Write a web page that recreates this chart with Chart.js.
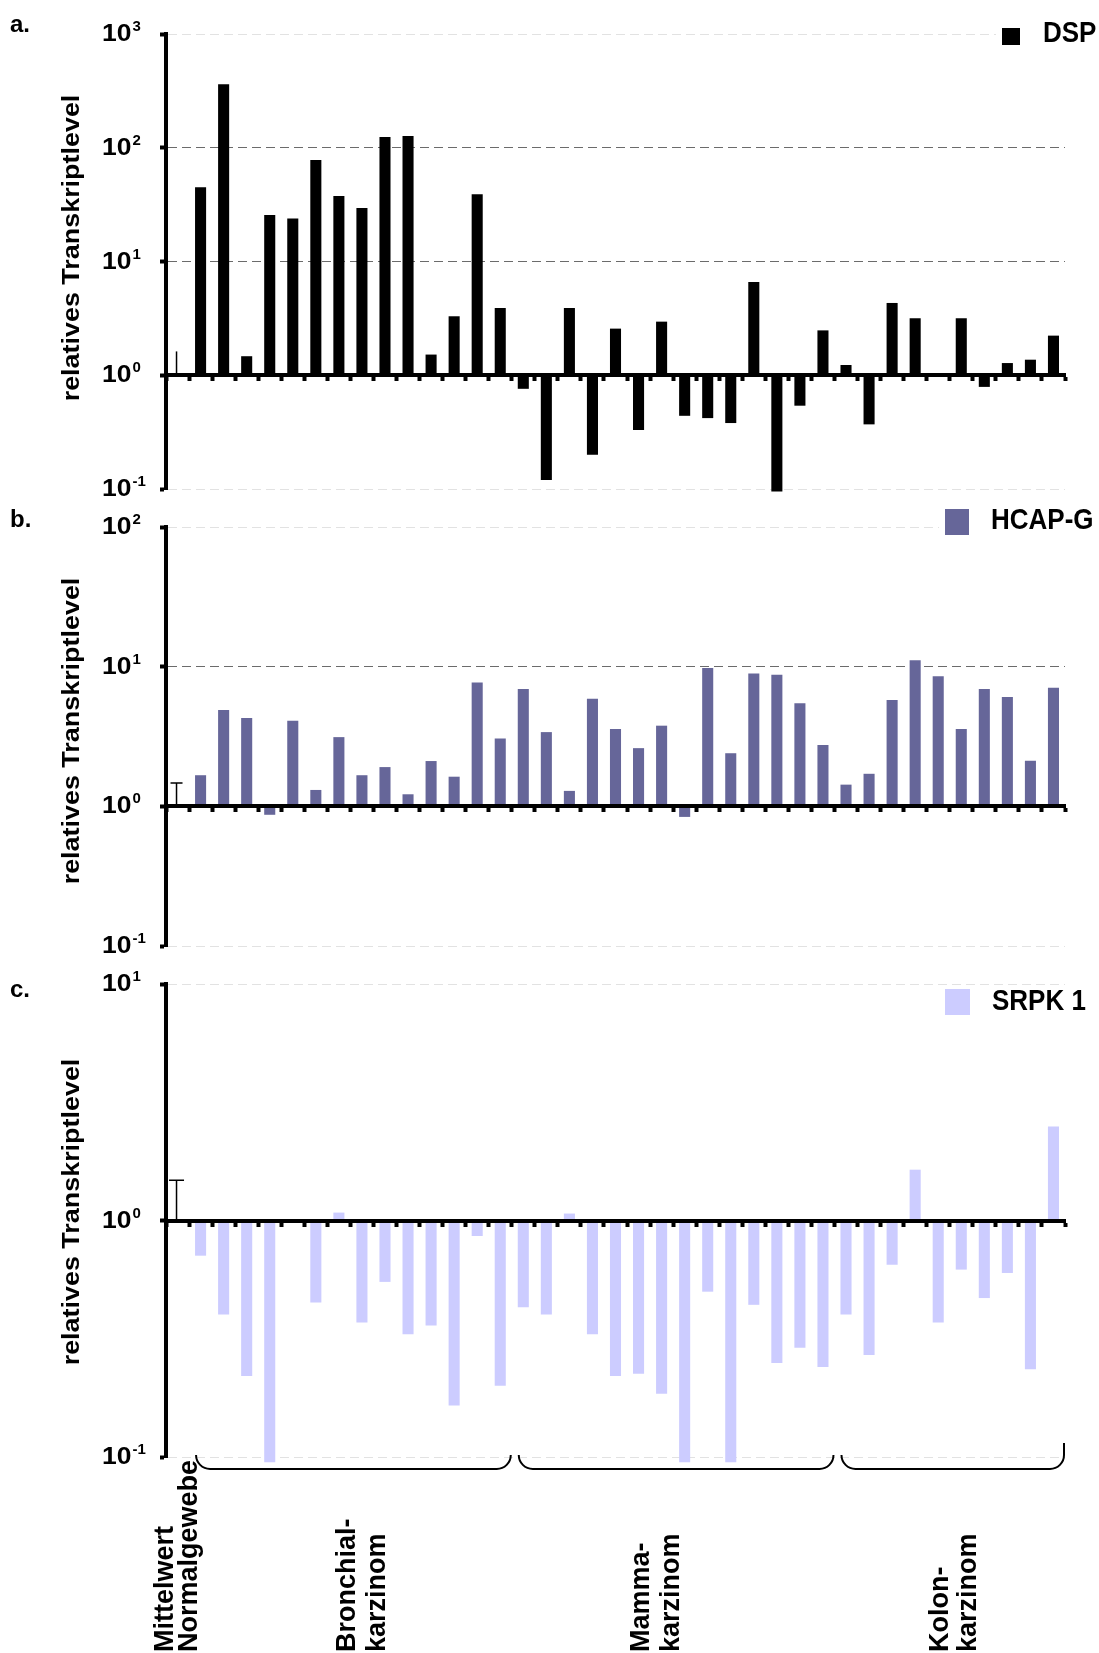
<!DOCTYPE html>
<html lang="de">
<head>
<meta charset="UTF-8">
<title>Relative Transkriptlevel DSP, HCAP-G, SRPK 1</title>
<script src="https://cdn.jsdelivr.net/npm/chart.js"></script>
<style>
  body { margin: 0; background: #fff; }
  #page { position: relative; width: 1099px; height: 1653px; }
  #page canvas { position: absolute; left: 0; }
</style>
</head>
<body>
<div id="page">
  <canvas id="chartDSP" width="1099" height="505" style="top:0px"></canvas>
  <canvas id="chartHCAP" width="1099" height="465" style="top:495px"></canvas>
  <canvas id="chartSRPK" width="1099" height="693" style="top:960px"></canvas>
</div>
<script>
// sample groups on the x axis; first slot is the mean of the normal tissues
const groupLabels = [['Mittelwert', 'Normalgewebe'], ['Bronchial-', 'karzinom'], ['Mamma-', 'karzinom'], ['Kolon-', 'karzinom']];
const groupSizes = [1, 14, 14, 10];
const groupPrefix = ['N', 'B', 'M', 'K'];
const categories = groupSizes.flatMap((n, g) => Array.from({length: n}, (_, i) => groupPrefix[g] + (i + 1)));

// relative transcript level, normal tissue mean = 1
const dspValues = [1, 45, 362, 1.47, 25.6, 23.9, 78, 37.6, 29.5, 124, 127, 1.52, 3.3, 39, 3.9,
  0.76, 0.12, 3.9, 0.20, 2.57, 0.33, 2.96, 0.44, 0.42, 0.38, 6.6, 0.095, 0.54, 2.48,
  1.23, 0.37, 4.32, 3.17, 1, 3.17, 0.79, 1.28, 1.37, 2.23];
const hcapValues = [1, 1.67, 4.9, 4.29, 0.87, 4.1, 1.31, 3.13, 1.67, 1.91, 1.22, 2.11, 1.63, 7.7, 3.06,
  6.92, 3.4, 1.29, 5.9, 3.58, 2.61, 3.78, 0.84, 9.8, 2.4, 8.95, 8.77, 5.46, 2.75,
  1.43, 1.71, 5.77, 11.1, 8.53, 3.58, 6.92, 6.07, 2.12, 7.07];
const srpkValues = [1, 0.71, 0.40, 0.22, 0.095, 1, 0.45, 1.08, 0.37, 0.55, 0.33, 0.36, 0.165, 0.86, 0.20,
  0.43, 0.40, 1.07, 0.33, 0.22, 0.225, 0.185, 0.095, 0.50, 0.095, 0.44, 0.25, 0.29, 0.24,
  0.40, 0.27, 0.65, 1.64, 0.37, 0.62, 0.47, 0.60, 0.235, 2.5];

// upper end of the error bar on the normal tissue mean
const dspNormalErr = 1.62;
const hcapNormalErr = 1.47;
const srpkNormalErr = 1.48;

// decades on the y axes
const dspTicks = [0.1, 1, 10, 100, 1000];
const hcapTicks = [0.1, 1, 10, 100];
const srpkTicks = [0.1, 1, 10];

const FONT = '"Liberation Sans", Arial, Helvetica, sans-serif';

function drawText(ctx, text, x, y, o) {
  ctx.save();
  ctx.translate(x, y);
  if (o.rotate) ctx.rotate(o.rotate);
  ctx.scale(o.sx || 1, o.sy || 1);
  ctx.font = 'bold ' + o.size + 'px ' + FONT;
  ctx.textAlign = o.align || 'left';
  ctx.textBaseline = 'alphabetic';
  ctx.fillStyle = '#000';
  ctx.fillText(text, 0, 0);
  ctx.restore();
}

function textWidth(ctx, text, size) {
  ctx.save();
  ctx.font = 'bold ' + size + 'px ' + FONT;
  const w = ctx.measureText(text).width;
  ctx.restore();
  return w;
}

// panel letter, 10^n tick labels, axis title, legend and the error bar of the normal mean
const panelDecor = {
  id: 'panelDecor',
  afterDraw(chart, args, o) {
    const ctx = chart.ctx;
    const {x, y} = chart.scales;

    drawText(ctx, o.letter, 10, o.letterY, {size: 24});

    y.ticks.forEach(t => {
      const py = y.getPixelForValue(t.value);
      const exp = String(Math.round(Math.log10(t.value)));
      const w10 = textWidth(ctx, '10', 23) * 1.15;
      drawText(ctx, '10', 102, py + 7, {size: 23, sx: 1.15});
      drawText(ctx, exp, 102 + w10 + 1, py - 3, {size: 15});
    });

    drawText(ctx, 'relatives Transkriptlevel', 79, o.titleY,
      {size: 23, rotate: -Math.PI / 2, align: 'center', sx: 1.17});

    const ds = chart.data.datasets[0];
    const box = o.legendBox;
    ctx.fillStyle = '#fff';
    ctx.fillRect(box[0] - 6, box[1] - 4, chart.width - box[0] + 6, box[3] + 8);
    ctx.fillStyle = ds.backgroundColor;
    ctx.fillRect(box[0], box[1], box[2], box[3]);
    drawText(ctx, ds.label, o.legendText[0], o.legendText[1], {size: 26, sy: 1.1});

    const cx = x.getPixelForValue(0) - 1;
    const y0 = y.getPixelForValue(1);
    const y1 = y.getPixelForValue(o.err);
    ctx.save();
    ctx.strokeStyle = '#000';
    ctx.lineWidth = 1.5;
    ctx.beginPath();
    ctx.moveTo(cx, y0);
    ctx.lineTo(cx, y1);
    if (o.capWidth) {
      ctx.moveTo(cx - o.capWidth / 2, y1);
      ctx.lineTo(cx + o.capWidth / 2, y1);
    }
    ctx.stroke();
    ctx.restore();
  }
};

// curly brackets under the tumour groups and the group names below them
const groupAxis = {
  id: 'groupAxis',
  afterDraw(chart, args, o) {
    const ctx = chart.ctx;
    const x = chart.scales.x;
    const slot = x.width / categories.length;
    const top = chart.chartArea.bottom - 2;
    const r = 14;
    ctx.save();
    ctx.strokeStyle = '#000';
    ctx.lineWidth = 2;
    let start = 0;
    groupSizes.forEach((n, g) => {
      const first = start;
      const last = start + n - 1;
      start += n;
      if (g === 0) return;
      const left = x.getPixelForValue(first) - slot / 2 + 7;
      const right = x.getPixelForValue(last) + slot / 2 - 1;
      ctx.beginPath();
      ctx.moveTo(left, top);
      ctx.arcTo(left, top + r, left + r, top + r, r);
      ctx.lineTo(right - r, top + r);
      ctx.arcTo(right, top + r, right, top, r);
      if (g === groupSizes.length - 1) ctx.lineTo(right, top - 12);
      ctx.stroke();
    });
    ctx.restore();

    groupLabels.forEach((lines, g) => {
      lines.forEach((text, k) => {
        drawText(ctx, text, o.lineX[g][k], o.textY, {size: 27, rotate: -Math.PI / 2});
      });
    });
  }
};

function makeChart(id, label, values, colour, ticks, darkLines, decor, pad, extra) {
  return new Chart(document.getElementById(id), {
    type: 'bar',
    data: {
      labels: categories,
      datasets: [{
        label: label,
        data: values,
        base: 1,
        clip: false,
        backgroundColor: colour,
        barPercentage: 0.48,
        categoryPercentage: 1
      }]
    },
    options: {
      responsive: false,
      animation: false,
      layout: { padding: pad },
      plugins: {
        legend: { display: false },
        tooltip: { enabled: false },
        panelDecor: decor,
        groupAxis: extra || {}
      },
      scales: {
        x: {
          type: 'category',
          position: { y: 1 },
          offset: true,
          ticks: { display: false },
          grid: {
            display: true, offset: true, drawOnChartArea: false,
            drawTicks: true, tickLength: 4, tickWidth: 4, tickColor: '#000'
          },
          border: { display: true, width: 4, color: '#000', z: 1 }
        },
        y: {
          type: 'logarithmic',
          min: ticks[0],
          max: ticks[ticks.length - 1],
          afterBuildTicks: s => { s.ticks = ticks.map(v => ({ value: v })); },
          ticks: { display: false },
          grid: {
            color: c => {
              if (!c.tick || c.tick.value === 1) return 'rgba(0,0,0,0)';
              return darkLines.includes(c.tick.value) ? '#6b6b6b' : '#e2e2e2';
            },
            lineWidth: 1,
            drawTicks: true, tickLength: 6, tickWidth: 4, tickColor: '#000'
          },
          border: { display: true, width: 4, color: '#000', dash: [9, 5] }
        }
      }
    },
    plugins: extra ? [panelDecor, groupAxis] : [panelDecor]
  });
}

makeChart('chartDSP', 'DSP', dspValues, '#000000', dspTicks, [10, 100],
  { letter: 'a.', letterY: 32, titleY: 248, err: dspNormalErr, capWidth: 0,
    legendBox: [1002, 28, 18, 17], legendText: [1043, 42] },
  { top: 34, bottom: 16, left: 160, right: 34 });

makeChart('chartHCAP', 'HCAP-G', hcapValues, '#666699', hcapTicks, [10],
  { letter: 'b.', letterY: 32, titleY: 236, err: hcapNormalErr, capWidth: 12,
    legendBox: [945, 14, 24, 26], legendText: [991, 34] },
  { top: 32, bottom: 14, left: 160, right: 34 });

makeChart('chartSRPK', 'SRPK 1', srpkValues, '#ccccff', srpkTicks, [],
  { letter: 'c.', letterY: 37, titleY: 252, err: srpkNormalErr, capWidth: 15,
    legendBox: [945, 29, 25, 26], legendText: [992, 50] },
  { top: 24, bottom: 196, left: 160, right: 34 },
  { textY: 692, lineX: [[173, 197], [355, 385], [649, 679], [948, 976]] });
</script>
</body>
</html>
